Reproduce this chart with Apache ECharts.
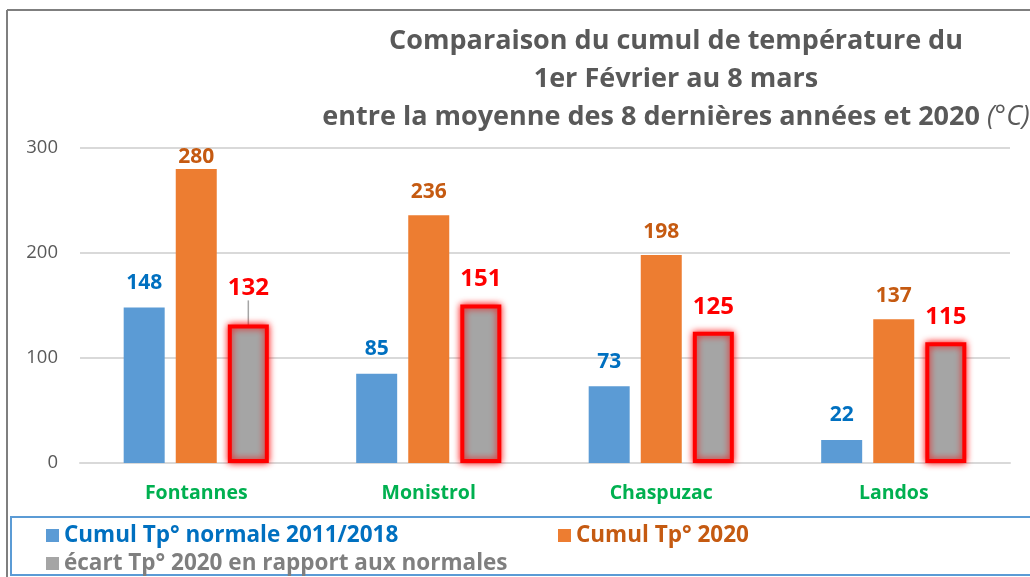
<!DOCTYPE html>
<html>
<head>
<meta charset="utf-8">
<script src="https://cdn.jsdelivr.net/npm/echarts@6/dist/echarts.min.js"></script>
<style>
  html, body { margin: 0; padding: 0; background: #fff; }
  #main { width: 1030px; height: 577px; }
</style>
</head>
<body>
<div id="main"></div>
<script>
var font = 'Open Sans, Noto Sans, sans-serif';

// données
var stations = ['Fontannes', 'Monistrol', 'Chaspuzac', 'Landos'];
var normale = [148, 85, 73, 22];
var annee2020 = [280, 236, 198, 137];
var ecart = [132, 151, 125, 115];
var yTicks = [0, 100, 200, 300];

var names = ['Cumul Tp° normale 2011/2018', 'Cumul Tp° 2020', 'écart Tp° 2020 en rapport aux normales'];

var chart = echarts.init(document.getElementById('main'));

// l'étiquette 280 est collée au haut de la barre
var data2020 = annee2020.map(function (v, i) {
  return i === 0 ? { value: v, label: { distance: 1 } } : v;
});
// le 132 a été remonté à la main dans l'original, avec un trait de rappel
var dataEcart = ecart.map(function (v, i) {
  return i === 0 ? { value: v, labelLine: { show: true } } : v;
});

var option = {
  backgroundColor: '#fff',
  animation: false,
  color: ['#5b9bd5', '#ed7d31', '#a5a5a5'],
  graphic: [
    // cadre gris
    { type: 'line', shape: { x1: 7, y1: 10, x2: 1030, y2: 10 }, style: { stroke: '#7f7f7f', lineWidth: 2 } },
    { type: 'line', shape: { x1: 7, y1: 10, x2: 7, y2: 577 }, style: { stroke: '#7f7f7f', lineWidth: 2 } },
    // cadre de la légende
    { type: 'rect', shape: { x: 11, y: 517, width: 1030, height: 58 }, style: { fill: '#fff', stroke: '#5b9bd5', lineWidth: 2 }, z: 0 },
    // titre
    {
      type: 'text', x: 676, y: 22, z: 10,
      style: {
        text: '{b|Comparaison du cumul de température du}\n{b|1er Février au 8 mars}\n{b|entre la moyenne des 8 dernières années et 2020 }{i|(°C)}',
        align: 'center',
        verticalAlign: 'top',
        rich: {
          b: { fontFamily: font, fontWeight: 'bold', fontSize: 27, fill: '#595959', lineHeight: 38 },
          i: { fontFamily: font, fontStyle: 'italic', fontSize: 27, fill: '#595959', lineHeight: 38 }
        }
      }
    }
  ],
  legend: [
    {
      data: [names[0]], left: 41, top: 519, itemWidth: 13, itemHeight: 13, itemGap: 10,
      icon: 'rect', itemStyle: { borderWidth: 0, shadowBlur: 0 },
      textStyle: { color: '#0070c0', fontWeight: 'bold', fontSize: 22.5, fontFamily: font }
    },
    {
      data: [names[1]], left: 553, top: 519, itemWidth: 13, itemHeight: 13,
      icon: 'rect', itemStyle: { borderWidth: 0, shadowBlur: 0 },
      textStyle: { color: '#c55a11', fontWeight: 'bold', fontSize: 22.5, fontFamily: font }
    },
    {
      data: [names[2]], left: 41, top: 547, itemWidth: 13, itemHeight: 13,
      icon: 'rect', itemStyle: { borderWidth: 0, shadowBlur: 0 },
      textStyle: { color: '#7f7f7f', fontWeight: 'bold', fontSize: 22.5, fontFamily: font }
    }
  ],
  grid: { left: 80, right: 20, top: 148, bottom: 114 },
  xAxis: {
    type: 'category',
    data: stations,
    axisTick: { show: false },
    axisLine: { lineStyle: { color: '#d9d9d9', width: 2 } },
    axisLabel: { color: '#00b050', fontWeight: 'bold', fontSize: 19.5, fontFamily: font, margin: 20 }
  },
  yAxis: {
    type: 'value',
    min: yTicks[0],
    max: yTicks[yTicks.length - 1],
    interval: 100,
    axisLine: { show: false },
    axisTick: { show: false },
    splitLine: { lineStyle: { color: '#d9d9d9', width: 2 } },
    axisLabel: { color: '#595959', fontSize: 18.5, fontFamily: font, margin: 22 }
  },
  series: [
    {
      name: names[0], type: 'bar', data: normale, barWidth: 41, barGap: '27%',
      label: { show: true, position: 'top', distance: 14, color: '#0070c0', fontWeight: 'bold', fontSize: 21, fontFamily: font }
    },
    {
      name: names[1], type: 'bar', data: data2020, barWidth: 41,
      label: { show: true, position: 'top', distance: 13, color: '#c55a11', fontWeight: 'bold', fontSize: 21, fontFamily: font }
    },
    {
      name: names[2], type: 'bar', data: dataEcart, barWidth: 41,
      itemStyle: { borderColor: '#ff0000', borderWidth: 4, shadowBlur: 7, shadowColor: 'rgba(255,0,0,0.9)' },
      label: { show: true, position: 'top', distance: 13, color: '#ff0000', fontWeight: 'bold', fontSize: 24, fontFamily: font },
      labelLine: { show: false, lineStyle: { color: '#a5a5a5', width: 1.5 } },
      labelLayout: function (p) {
        return p.dataIndex === 0 ? { dy: -11 } : {};
      }
    }
  ]
};

chart.setOption(option);
</script>
</body>
</html>
